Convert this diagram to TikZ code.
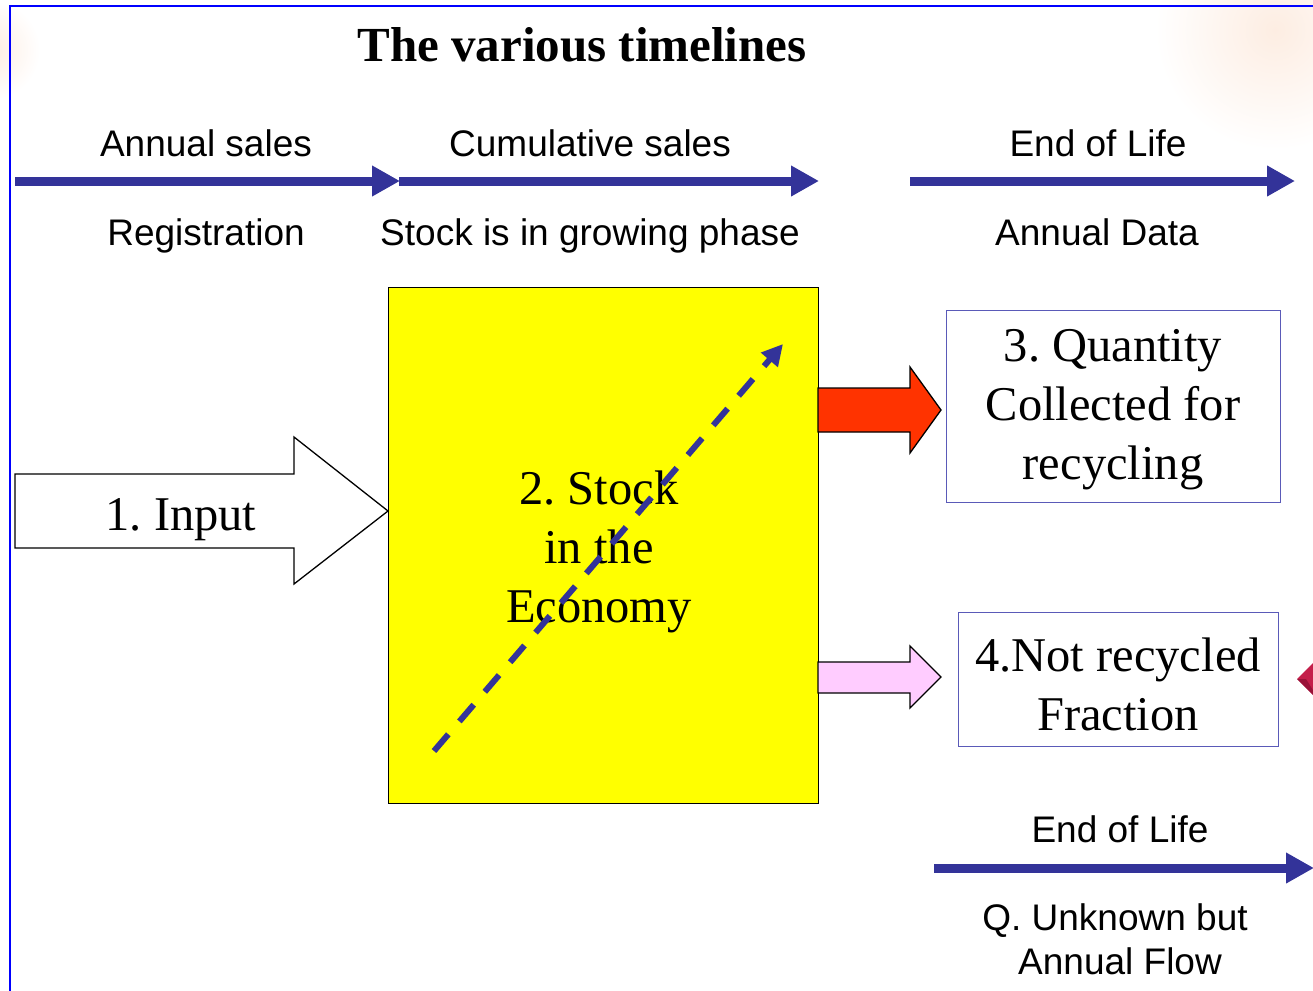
\documentclass[tikz,border=0pt]{standalone}
\usepackage{fontspec}
\setmainfont{Liberation Serif}
\setsansfont{Liberation Sans}
\usetikzlibrary{arrows.meta}
\frenchspacing
\definecolor{tlblue}{HTML}{333399}
\definecolor{frameblue}{HTML}{0000FF}
\definecolor{boxblue}{HTML}{5A5AB8}
\definecolor{stockyellow}{HTML}{FFFF00}
\definecolor{redarrow}{HTML}{FF3300}
\definecolor{pinkarrow}{HTML}{FFCCFF}
\definecolor{diamondred}{HTML}{C41E4A}
\definecolor{diamonddark}{HTML}{9A1238}
\definecolor{peach}{HTML}{FDEDE2}
\begin{document}
\begin{tikzpicture}[x=1pt,y=-1pt,
  timeline/.style={draw=tlblue, line width=9pt, -{Triangle[length=28pt,width=29pt]}},
  tltext/.style={font=\sffamily\fontsize{37}{44}\selectfont, inner sep=0pt, align=center},
  big/.style={font=\fontsize{48.5}{59}\selectfont, align=center, inner sep=0pt},
  block/.style={draw=black, line width=1.3pt, line join=miter},
  infobox/.style={draw=boxblue, line width=1.3pt, inner sep=0pt}]
\useasboundingbox (0,0) rectangle (1313,990);
\begin{scope}
\clip (0,0) rectangle (1313,990);
% faint background
\fill[white] (0,0) rectangle (1313,990);
\shade[inner color=peach, outer color=white] (1275,30) circle (120);
\shade[inner color=peach, outer color=white] (-10,50) circle (50);
% frame
\draw[frameblue, line width=2.5pt] (1400,6) -- (10,6) -- (10,1100);
% diamond at right edge
\fill[diamondred] (1297,679) -- (1321,655) -- (1345,679) -- (1321,703) -- cycle;
\fill[diamonddark] (1297,679) -- (1321,703) -- (1306,679) -- cycle;

% title
\node[font=\bfseries\fontsize{49}{58}\selectfont, anchor=base, inner sep=0pt] (title) at (582,62) {The various timelines};

% timelines
\coordinate (t1s) at (15,181);   \coordinate (t1e) at (400,181);
\coordinate (t2s) at (399,181);  \coordinate (t2e) at (819,181);
\coordinate (t3s) at (910,181);  \coordinate (t3e) at (1295,181);
\coordinate (t4s) at (934,868);  \coordinate (t4e) at (1314,868);
\draw[timeline] (t1s) -- (t1e);
\draw[timeline] (t2s) -- (t2e);
\draw[timeline] (t3s) -- (t3e);
\draw[timeline] (t4s) -- (t4e);

\node[tltext, anchor=base] (annual) at (206,156) {Annual sales};
\node[tltext, anchor=base] (cumul) at (590,156) {Cumulative sales};
\node[tltext, anchor=base] (eol1) at (1098,156) {End of Life};
\node[tltext, anchor=base] (regist) at (206,245) {Registration};
\node[tltext, anchor=base] (growing) at (590,245) {Stock is in growing phase};
\node[tltext, anchor=base] (adata) at (1097,245) {Annual Data};
\node[tltext, anchor=base] (eol2) at (1120,842) {End of Life};
\node[tltext, anchor=base] (qunk) at (1115,930) {Q. Unknown but};
\node[tltext, anchor=base] (aflow) at (1120,974) {Annual Flow};

% stock box
\node[block, fill=stockyellow, minimum width=430pt, minimum height=516pt, anchor=north west, inner sep=0pt] (stock) at (388,287) {};
\node[big] (stocklabel) at (599,552) {2. Stock\\in the\\Economy};

% dashed growth arrow
\coordinate (gs) at (434,751);
\coordinate (ge) at (783,344);
\draw[tlblue, line width=6pt, dash pattern=on 22pt off 17pt, -{Triangle[length=21pt,width=21pt]}] (gs) -- (ge);

% input arrow
\coordinate (intip) at (stock.north west |- 0,511);
\draw[block, fill=white] (15,474) -- (294,474) -- (294,437) -- (intip) -- (294,584) -- (294,548) -- (15,548) -- cycle;
\node[big, anchor=base] (input) at (181,530) {1. Input};

% info boxes
\node[infobox, minimum width=334pt, minimum height=192pt, anchor=north west] (qbox) at (946,310) {};
\node[big] (qtext) at (1113,410) {3. Quantity\\Collected for\\recycling};
\node[infobox, minimum width=320pt, minimum height=134pt, anchor=north west] (nbox) at (958,612) {};
\node[big] (ntext) at (1118,684) {4.Not recycled\\Fraction};

% block arrows from stock
\draw[block, fill=redarrow] (818,388) -- (910,388) -- (910,367) -- (941,410) -- (910,453) -- (910,432) -- (818,432) -- cycle;
\draw[block, fill=pinkarrow] (818,662) -- (910,662) -- (910,646) -- (941,677) -- (910,708) -- (910,693) -- (818,693) -- cycle;
\end{scope}
\end{tikzpicture}
\end{document}
